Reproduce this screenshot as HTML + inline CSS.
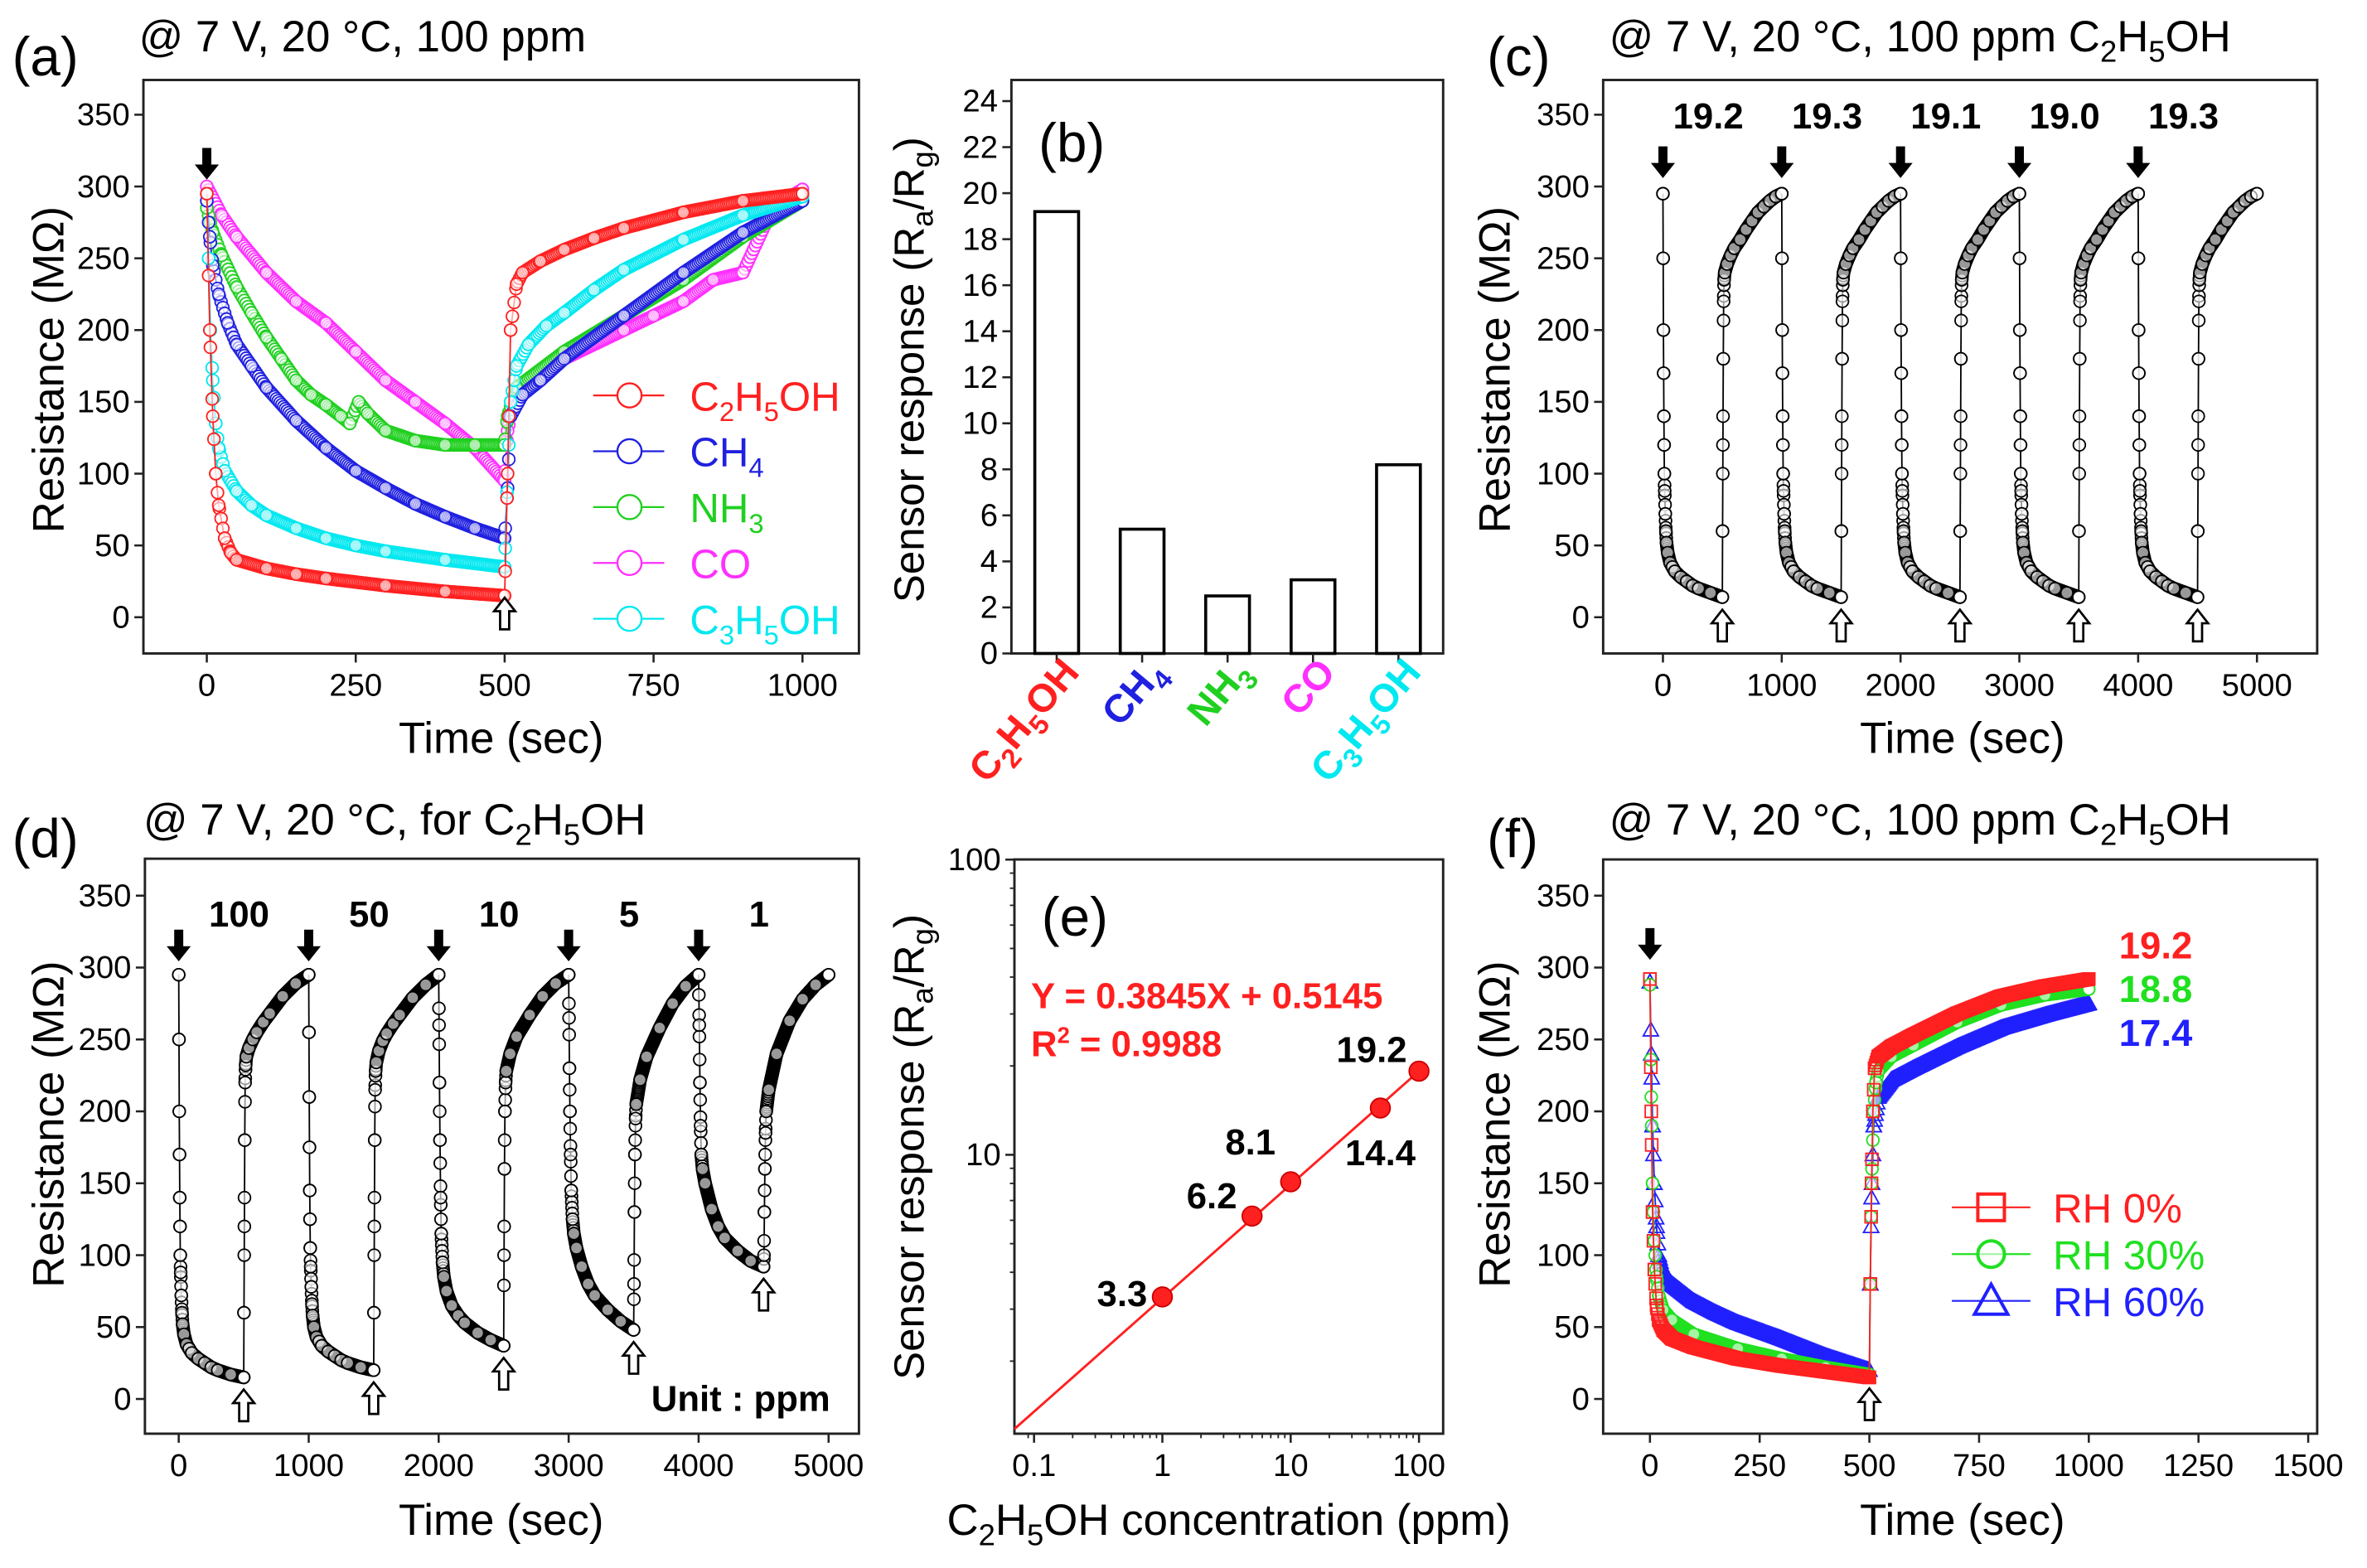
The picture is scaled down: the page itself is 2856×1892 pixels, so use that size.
<!DOCTYPE html>
<html><head><meta charset="utf-8">
<style>
html,body{margin:0;padding:0;background:#fff;}
svg{display:block;font-family:"Liberation Sans",Arial,sans-serif;}
</style></head>
<body>
<svg id="fig" width="2856" height="1892" viewBox="0 0 1568 1039" preserveAspectRatio="none" xmlns="http://www.w3.org/2000/svg"></svg>
<script>
// ---------- data ----------
// panel (a): time (s) and resistance (MOhm) per gas
const aT_eth = [0,5,10,15,20,30,40,50,100,150,200,300,400,500,505,510,520,530,560,600,650,700,800,900,1000];
const aR_eth = [295,200,140,100,78,55,45,40,34,30,27,22,18,15,100,200,232,240,248,256,264,271,282,290,295];
const aT_ch4 = [0,5,10,20,35,50,75,100,150,200,250,300,350,400,450,500,505,510,530,560,600,700,800,900,1000];
const aR_ch4 = [290,265,245,225,205,190,175,160,137,118,102,90,79,70,62,55,90,140,155,165,180,210,240,268,290];
const aT_nh3 = [0,10,25,50,75,100,125,150,175,200,225,240,255,270,300,350,400,450,500,505,520,600,700,800,900,1000];
const aR_nh3 = [285,268,252,230,212,195,180,165,155,148,140,135,150,142,130,123,120,120,120,140,160,185,210,235,265,290];
const aT_co  = [0,25,50,100,150,200,250,300,350,400,450,500,505,520,600,700,750,800,850,900,950,1000];
const aR_co  = [300,280,265,240,220,205,185,165,150,135,118,95,130,160,180,200,210,220,235,240,285,298];
const aT_c3  = [0,3,6,10,15,20,30,50,75,100,150,200,250,300,400,500,505,510,520,540,570,600,650,700,800,900,1000];
const aR_c3  = [295,250,200,165,135,118,102,88,78,71,62,55,50,46,40,35,100,150,175,190,203,212,228,242,263,280,293];
const aLegend = ["C2H5OH","CH4","NH3","CO","C3H5OH"];
// panel (b)
const bCats = ["C2H5OH","CH4","NH3","CO","C3H5OH"];
const bVals = [19.2,5.4,2.5,3.2,8.2];
const bTicks = [0,2,4,6,8,10,12,14,16,18,20,22,24];
// panel (c): one cycle shape and cycle starts
const cT = [0,2,4,6,8,10,12,15,20,25,30,40,60,80,100,150,200,250,300,400,500,502,505,508,511,515,520,540,570,600,650,700,750,800,850,900,950,1000];
const cR = [295,250,200,170,140,120,100,88,72,60,52,45,38,35,32,28,25,22,20,17,14,60,120,180,220,235,240,246,252,257,263,270,276,282,286,290,293,295];
const cStarts = [0,1000,2000,3000,4000];
const cLabels = ["19.2","19.3","19.1","19.0","19.3"];
// panel (d): per-concentration cycles
const dConc = ["100","50","10","5","1"];
const dStarts = [0,1000,2000,3000,4000];
const dT0 = [0,2,4,6,8,10,12,15,20,25,30,40,60,80,100,150,200,250,300,400,500,502,505,508,511,515,520,540,570,600,650,700,800,900,1000];
const dR0 = [295,250,200,170,140,120,100,88,72,60,52,45,38,35,32,28,25,22,20,17,15,60,120,180,220,232,238,244,250,255,262,268,280,289,295];
const dT1 = [0,2,4,6,8,10,12,15,20,25,30,40,60,80,100,150,200,250,300,400,500,502,505,508,511,515,520,540,570,600,650,700,800,900,1000];
const dR1 = [295,255,210,175,145,125,105,92,78,66,58,50,43,40,37,33,30,27,25,22,20,60,120,180,215,228,234,242,249,254,261,267,279,288,295];
const dT2 = [0,3,6,10,15,20,30,40,60,100,150,200,300,400,500,503,506,510,515,520,550,600,700,800,900,1000];
const dR2 = [295,260,220,180,140,115,95,85,75,65,58,53,46,41,37,100,160,200,220,228,240,252,267,280,289,295];
const dT3 = [0,3,6,10,15,20,30,40,60,100,150,200,300,400,500,503,506,510,515,520,550,600,700,800,900,1000];
const dR3 = [295,265,230,200,170,145,125,115,105,92,80,72,62,54,48,80,130,170,195,205,222,238,258,275,287,295];
const dT4 = [0,5,10,15,20,30,50,100,150,200,300,400,500,503,506,510,515,520,540,600,700,800,900,1000];
const dR4 = [295,260,220,190,170,160,150,132,120,112,103,96,92,100,130,160,185,200,215,240,263,278,288,295];
// panel (e)
const eConc = [1,5,10,50,100];
const eResp = [3.3,6.2,8.1,14.4,19.2];
const eSlope = 0.3845, eIntercept = 0.5145;
// panel (f)
const fT0 = [0,3,6,10,15,20,30,50,100,200,300,400,500,502,505,508,512,520,550,600,700,800,900,1000];
const fR0 = [292,200,130,90,65,55,48,42,36,28,23,19,15,80,150,200,230,238,245,253,268,280,287,292];
const fT1 = [0,3,6,10,15,20,30,50,100,200,300,400,500,502,505,510,515,520,550,600,700,800,900,1000];
const fR1 = [288,210,150,110,85,72,62,55,45,35,28,22,17,80,150,200,220,228,238,246,262,274,281,285];
const fT2 = [0,3,6,10,15,20,30,50,100,150,200,300,400,500,502,505,510,520,550,600,700,800,900,1000];
const fR2 = [290,240,190,150,120,100,88,80,68,60,53,42,30,20,80,140,190,210,222,230,245,258,267,275];
const fLabels = ["19.2","18.8","17.4"];

// ---------- helpers ----------
const NS="http://www.w3.org/2000/svg";
const svg=document.getElementById('fig');
function mk(tag,attrs,name,parent){
  const e=document.createElementNS(NS,tag);
  for(const k in attrs) e.setAttribute(k,attrs[k]);
  
  
  (parent||svg).appendChild(e);
  return e;
}
function txt(x,y,s,size,name,opts){
  opts=opts||{};
  const t=mk('text',{x:x,y:y,'font-size':size,fill:opts.fill||'#000','text-anchor':opts.anchor||'start','font-weight':opts.bold?'bold':'normal'},name);
  if(opts.rot) t.setAttribute('transform','rotate('+opts.rot+' '+x+' '+y+')');
  t.innerHTML=s; return t;
}
function chem(s,size){
  const sub=Math.round(size*0.68), d=Math.round(size*0.25);
  return s.replace(/(\d)/g,'<tspan dy="'+d+'" font-size="'+sub+'">$1</tspan><tspan dy="-'+d+'">\u200b</tspan>');
}
function box(x0,y0,x1,y1,name){
  mk('rect',{x:x0,y:y0,width:x1-x0,height:y1-y0,fill:'none',stroke:'#222','stroke-width':1.6},name);
}
function yTicks(ax,ticks,name){
  ticks.forEach(v=>{const y=ax.y(v);
    mk('line',{x1:ax.x0-6,x2:ax.x0,y1:y,y2:y,stroke:'#222','stroke-width':1.4},name+'-tick');
    txt(ax.x0-9,y+7,String(v),21,name+'-label',{anchor:'end'});});
}
function xTicks(ax,ticks,name){
  ticks.forEach(v=>{const x=ax.x(v);
    mk('line',{x1:x,x2:x,y1:ax.y1,y2:ax.y1+6,stroke:'#222','stroke-width':1.4},name+'-tick');
    txt(x,ax.y1+28,String(v),21,name+'-label',{anchor:'middle'});});
}
function series(ax,T,R,color,name,step,marker,offset){
  offset=offset||0;
  const pts=T.map((t,i)=>ax.x(t+offset)+','+ax.y(R[i])).join(' ');
  mk('polyline',{points:pts,fill:'none',stroke:color,'stroke-width':1},name+'-line');
  const g=mk('g',{},name+'-markers');
  const tEnd=T[T.length-1];
  for(let t=0;t<=tEnd;t+=step){
    let i=0; while(i<T.length-2 && T[i+1]<t) i++;
    const f=(t-T[i])/(T[i+1]-T[i]); const r=R[i]+(R[i+1]-R[i])*Math.min(1,Math.max(0,f));
    drawMarker(g,ax.x(t+offset),ax.y(r),color,marker||'circle',name+'-point');
  }
  T.forEach((t,i)=>drawMarker(g,ax.x(t+offset),ax.y(R[i]),color,marker||'circle',name+'-point'));
}
function drawMarker(g,x,y,color,m,name){
  if(m==='square') mk('rect',{x:x-4,y:y-4,width:8,height:8,fill:'none',stroke:color,'stroke-width':1},name,g);
  else if(m==='tri') mk('polygon',{points:(x)+','+(y-5)+' '+(x-5)+','+(y+4)+' '+(x+5)+','+(y+4),fill:'none',stroke:color,'stroke-width':1},name,g);
  else mk('circle',{cx:x,cy:y,r:4,fill:'#fff','fill-opacity':0.6,stroke:color,'stroke-width':1},name,g);
}
function downArrow(x,y,name){
  mk('polygon',{points:[[x-3,y],[x+3,y],[x+3,y+11],[x+8,y+11],[x,y+21],[x-8,y+11],[x-3,y+11]].map(p=>p.join(',')).join(' '),fill:'#000'},name);
}
function upArrow(x,y,name){
  mk('polygon',{points:[[x,y],[x+7,y+9],[x+3,y+9],[x+3,y+21],[x-3,y+21],[x-3,y+9],[x-7,y+9]].map(p=>p.join(',')).join(' '),fill:'#fff',stroke:'#000','stroke-width':1.5},name);
}

// ---------- panel (a) ----------
const A={x0:95,x1:569,y0:53,y1:433,x:t=>137+t*0.3946,y:r=>409-r*0.9514};
box(A.x0,A.y0,A.x1,A.y1,'panel-a-frame');
yTicks(A,[0,50,100,150,200,250,300,350],'a-y');
xTicks(A,[0,250,500,750,1000],'a-x');
txt(8,50,'(a)',36,'panel-a-label');
txt(92,34,'@ 7 V, 20 °C, 100 ppm',29,'panel-a-title');
txt(42,245,'Resistance (MΩ)',29,'a-y-axis-title',{anchor:'middle',rot:-90});
txt(332,499,'Time (sec)',29,'a-x-axis-title',{anchor:'middle'});
const aCols=['#ff2020','#2020e0','#20d020','#ff30ff','#00e8f0'];
series(A,aT_co,aR_co,aCols[3],'co-series',3);
series(A,aT_nh3,aR_nh3,aCols[2],'nh3-series',3);
series(A,aT_ch4,aR_ch4,aCols[1],'ch4-series',3);
series(A,aT_c3,aR_c3,aCols[4],'c3h5oh-series',3);
series(A,aT_eth,aR_eth,aCols[0],'c2h5oh-series',3);
downArrow(A.x(0),98,'a-gas-on-arrow');
upArrow(A.x(500),396,'a-gas-off-arrow');
aLegend.forEach((s,i)=>{const y=262+i*37;
  mk('line',{x1:393,x2:440,y1:y,y2:y,stroke:aCols[i],'stroke-width':1.2},'legend-line');
  mk('circle',{cx:417,cy:y,r:8,fill:'#fff',stroke:aCols[i],'stroke-width':1.3},'legend-marker');
  txt(457,y+10,chem(s,27),27,'legend-entry',{fill:aCols[i]});});

// ---------- panel (b) ----------
const B={x0:670,x1:956,y0:53,y1:433,y:v=>433-v*15.25};
box(B.x0,B.y0,B.x1,B.y1,'panel-b-frame');
yTicks(B,bTicks,'b-y');
txt(688,107,'(b)',36,'panel-b-label');
txt(612,245,'Sensor response (R<tspan dy="6" font-size="20">a</tspan><tspan dy="-6">/R</tspan><tspan dy="6" font-size="20">g</tspan><tspan dy="-6">)</tspan>',28,'b-y-axis-title',{anchor:'middle',rot:-90});
bCats.forEach((c,i)=>{const cx=700+i*56.6, y=B.y(bVals[i]);
  mk('rect',{x:cx-14.5,y:y,width:29,height:433-y,fill:'#fff',stroke:'#000','stroke-width':2},'bar-'+c.toLowerCase());
  mk('line',{x1:cx,x2:cx,y1:433,y2:439,stroke:'#222','stroke-width':1.4},'b-x-tick');
  txt(cx+16,446,chem(c,26),26,'b-x-label',{anchor:'end',bold:true,rot:-50,fill:aCols[i]});});

// ---------- panel (c) ----------
const C={x0:1062,x1:1535,y0:53,y1:433,x:t=>1101.6+t*0.0787,y:r=>409-r*0.9514};
box(C.x0,C.y0,C.x1,C.y1,'panel-c-frame');
yTicks(C,[0,50,100,150,200,250,300,350],'c-y');
xTicks(C,[0,1000,2000,3000,4000,5000],'c-x');
txt(985,50,'(c)',36,'panel-c-label');
txt(1066,34,'@ 7 V, 20 °C, 100 ppm '+chem('C2H5OH',29),29,'panel-c-title');
txt(1000,245,'Resistance (MΩ)',29,'c-y-axis-title',{anchor:'middle',rot:-90});
txt(1300,499,'Time (sec)',29,'c-x-axis-title',{anchor:'middle'});
cStarts.forEach((s,k)=>{
  series(C,cT,cR,'#000','c-cycle-'+(k+1),2,'circle',s);
  downArrow(C.x(s),97,'c-gas-on-arrow');
  upArrow(C.x(s+500),404,'c-gas-off-arrow');
  txt(C.x(s)+30,85,cLabels[k],24,'c-response-value',{anchor:'middle',bold:true});
});

// ---------- panel (d) ----------
const D={x0:96,x1:569,y0:569,y1:950,x:t=>118.4+t*0.0861,y:r=>927-r*0.9529};
box(D.x0,D.y0,D.x1,D.y1,'panel-d-frame');
yTicks(D,[0,50,100,150,200,250,300,350],'d-y');
xTicks(D,[0,1000,2000,3000,4000,5000],'d-x');
txt(8,568,'(d)',36,'panel-d-label');
txt(95,553,'@ 7 V, 20 °C, for '+chem('C2H5OH',29),29,'panel-d-title');
txt(42,745,'Resistance (MΩ)',29,'d-y-axis-title',{anchor:'middle',rot:-90});
txt(332,1017,'Time (sec)',29,'d-x-axis-title',{anchor:'middle'});
const dTs=[dT0,dT1,dT2,dT3,dT4], dRs=[dR0,dR1,dR2,dR3,dR4];
dStarts.forEach((s,k)=>{
  series(D,dTs[k],dRs[k],'#000','d-cycle-'+dConc[k]+'ppm',2,'circle',s);
  downArrow(D.x(s),616,'d-gas-on-arrow');
  const mn=dRs[k][dTs[k].indexOf(500)];
  upArrow(D.x(s+500),D.y(mn)+8,'d-gas-off-arrow');
  txt(D.x(s)+40,614,dConc[k],24,'d-concentration-label',{anchor:'middle',bold:true});
});
txt(550,935,'Unit : ppm',24,'d-unit-note',{anchor:'end',bold:true});

// ---------- panel (e) ----------
const E={x0:672,x1:956,y0:569.5,y1:950,x:c=>770+Math.log10(c)*85,y:v=>960.8-Math.log10(v)*195.6};
box(E.x0,E.y0,E.x1,E.y1,'panel-e-frame');
[10,100].forEach(v=>{const y=E.y(v);
  mk('line',{x1:E.x0-6,x2:E.x0,y1:y,y2:y,stroke:'#222','stroke-width':1.4},'e-y-tick');
  txt(E.x0-9,y+7,String(v),21,'e-y-label',{anchor:'end'});});
[2,3,4,5,6,7,8,9,20,30,40,50,60,70,80,90].forEach(v=>{const y=E.y(v); if(y<E.y1)
  mk('line',{x1:E.x0-3,x2:E.x0,y1:y,y2:y,stroke:'#222','stroke-width':1},'e-y-minor-tick');});
[0.1,1,10,100].forEach(v=>{const x=E.x(v);
  mk('line',{x1:x,x2:x,y1:E.y1,y2:E.y1+6,stroke:'#222','stroke-width':1.4},'e-x-tick');
  txt(x,E.y1+28,String(v),21,'e-x-label',{anchor:'middle'});});
[0.09,0.2,0.3,0.4,0.5,0.6,0.7,0.8,0.9,2,3,4,5,6,7,8,9,20,30,40,50,60,70,80,90].forEach(v=>{const x=E.x(v);
  if(x>E.x0&&x<E.x1) mk('line',{x1:x,x2:x,y1:E.y1,y2:E.y1+3,stroke:'#222','stroke-width':1},'e-x-minor-tick');});
txt(690,620,'(e)',36,'panel-e-label');
txt(612,760,'Sensor response (R<tspan dy="6" font-size="20">a</tspan><tspan dy="-6">/R</tspan><tspan dy="6" font-size="20">g</tspan><tspan dy="-6">)</tspan>',28,'e-y-axis-title',{anchor:'middle',rot:-90});
txt(814,1017,chem('C2H5OH',29)+' concentration (ppm)',29,'e-x-axis-title',{anchor:'middle'});
const fitY=c=>Math.pow(10,eSlope*Math.log10(c)+eIntercept);
const cLo=Math.pow(10,(672-770)/85), cHi=100;
mk('line',{x1:E.x(cLo),y1:E.y(fitY(cLo)),x2:E.x(cHi),y2:E.y(fitY(cHi)),stroke:'#ff2020','stroke-width':1.6},'e-fit-line');
eConc.forEach((c,i)=>mk('circle',{cx:E.x(c),cy:E.y(eResp[i]),r:6.5,fill:'#ff2020',stroke:'#c00','stroke-width':1},'e-data-point'));
const eLab=[[-10,6,'end'],[-10,-5,'end'],[-10,-18,'end'],[0,38,'middle'],[-8,-6,'end']];
eConc.forEach((c,i)=>{const o=eLab[i]; txt(E.x(c)+o[0],E.y(eResp[i])+o[1],eResp[i].toFixed(1),24,'e-value-label',{anchor:o[2],bold:true});});
txt(683,668,'Y = 0.3845X + 0.5145',24,'e-fit-equation',{bold:true,fill:'#ff2020'});
txt(683,700,'R<tspan dy="-9" font-size="15">2</tspan><tspan dy="9"> = 0.9988</tspan>',24,'e-r-squared',{bold:true,fill:'#ff2020'});

// ---------- panel (f) ----------
const F={x0:1062,x1:1535,y0:569.5,y1:950,x:t=>1093+t*0.2907,y:r=>927-r*0.9529};
box(F.x0,F.y0,F.x1,F.y1,'panel-f-frame');
yTicks(F,[0,50,100,150,200,250,300,350],'f-y');
xTicks(F,[0,250,500,750,1000,1250,1500],'f-x');
txt(985,568,'(f)',36,'panel-f-label');
txt(1066,553,'@ 7 V, 20 °C, 100 ppm '+chem('C2H5OH',29),29,'panel-f-title');
txt(1000,745,'Resistance (MΩ)',29,'f-y-axis-title',{anchor:'middle',rot:-90});
txt(1300,1017,'Time (sec)',29,'f-x-axis-title',{anchor:'middle'});
const fCols=['#ff2020','#20e020','#2020ff'];
series(F,fT2,fR2,fCols[2],'rh60-series',2,'tri');
series(F,fT1,fR1,fCols[1],'rh30-series',2,'circle');
series(F,fT0,fR0,fCols[0],'rh0-series',2,'square');
downArrow(F.x(0),615,'f-gas-on-arrow');
upArrow(F.x(500),920,'f-gas-off-arrow');
fLabels.forEach((s,i)=>txt(1428,635+i*29,s,25,'f-response-value',{anchor:'middle',bold:true,fill:fCols[i]}));
['RH 0%','RH 30%','RH 60%'].forEach((s,i)=>{const y=800+i*31, m=['square','circle','tri'][i];
  mk('line',{x1:1293,x2:1345,y1:y,y2:y,stroke:fCols[i],'stroke-width':1.2},'f-legend-line');
  const g=mk('g',{transform:'translate(1319,'+y+') scale(2.2) translate(-1319,-'+y+')'},'f-legend-marker');
  drawMarker(g,1319,y,fCols[i],m,'f-legend-marker-shape');
  txt(1360,y+10,s,27,'f-legend-entry',{fill:fCols[i]});});
</script>
</body></html>
